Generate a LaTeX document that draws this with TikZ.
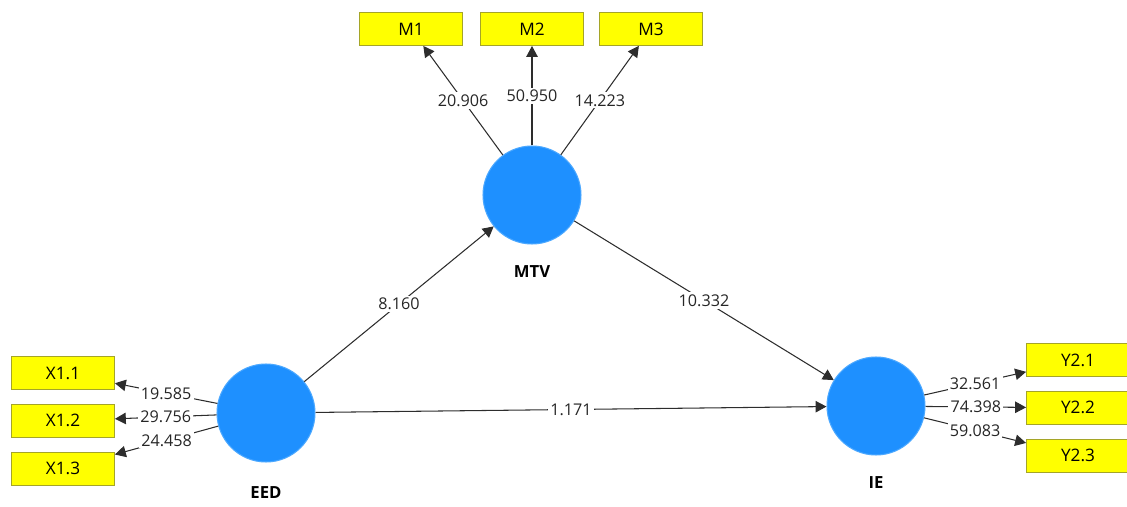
\documentclass[tikz,border=0pt]{standalone}
\usepackage{fontspec}
\setmainfont{Open Sans}
\usepackage{tikz}
\usetikzlibrary{positioning,arrows.meta}
\usepackage{xcolor}
\definecolor{lvblue}{RGB}{30,144,255}
\definecolor{lvedge}{RGB}{75,168,255}
\definecolor{indyellow}{RGB}{255,255,0}
\definecolor{indedge}{RGB}{165,165,40}
\definecolor{pathgray}{RGB}{45,45,45}

\begin{document}
\begin{tikzpicture}[x=0.02cm, y=-0.02cm,
latent/.style={circle, fill=lvblue, draw=lvedge, line width=0.6pt, minimum size=1.96cm, inner sep=0pt},
indicator/.style={rectangle, fill=indyellow, draw=indedge, line width=0.5pt, minimum width=2.06cm, minimum height=0.66cm, inner sep=0pt, font=\fontsize{9.8}{11}\selectfont},
lvname/.style={font=\fontsize{9.5}{11}\selectfont\bfseries},
coef/.style={midway, fill=white, inner sep=1.2pt, text=black!85, font=\fontsize{9.2}{10}\selectfont},
link/.style={draw=pathgray, line width=0.6pt, -{Triangle[length=6.2pt,width=6.5pt]}}]
\useasboundingbox (0,0) rectangle (1127,507);

% latent variables
\node[latent] (mtv) at (532,195) {};
\node[latent] (eed) at (266,413) {};
\node[latent] (ie) at (876,406) {};
\node[lvname] (mtvname) at (532,272) {MTV};
\node[lvname] (eedname) at (266,493) {EED};
\node[lvname] (iename) at (876,483) {IE};

% indicators
\node[indicator] (m1) at (411,29) {M1};
\node[indicator] (m2) at (532,29) {M2};
\node[indicator] (m3) at (651,29) {M3};
\node[indicator] (x11) at (63,373) {X1.1};
\node[indicator, below=0.28cm of x11] (x12) {X1.2};
\node[indicator, below=0.28cm of x12] (x13) {X1.3};
\node[indicator] (y21) at (1078,360) {Y2.1};
\node[indicator, below=0.28cm of y21] (y22) {Y2.2};
\node[indicator, below=0.28cm of y22] (y23) {Y2.3};

% outer model
\foreach \lv/\ind/\val in {mtv/m1/20.906, mtv/m2/50.950, mtv/m3/14.223,
  eed/x11/19.585, eed/x12/29.756, eed/x13/24.458,
  ie/y21/32.561, ie/y22/74.398, ie/y23/59.083}
  \draw[link] (\lv) -- node[coef] (t-\ind) {\val} (\ind);

% inner model
\draw[link] (eed) -- node[coef] (t-eedmtv) {8.160} (mtv);
\draw[link] (mtv) -- node[coef] (t-mtvie) {10.332} (ie);
\draw[link] (eed) -- node[coef] (t-eedie) {1.171} (ie);
\end{tikzpicture}
\end{document}
